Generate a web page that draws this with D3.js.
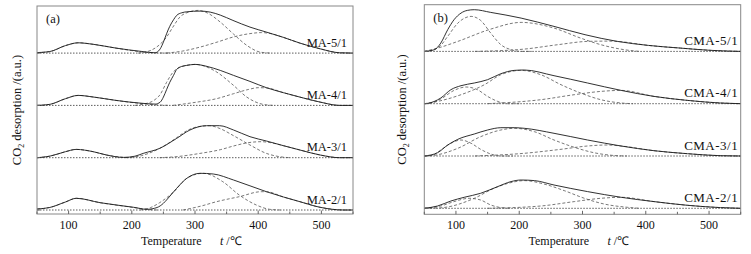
<!DOCTYPE html>
<html>
<head>
<meta charset="utf-8">
<script src="https://cdn.jsdelivr.net/npm/d3@7"></script>
<style>
  html, body { margin: 0; padding: 0; background: #fff; }
  svg { display: block; }
</style>
</head>
<body>
<script>
// CO2-TPD, deconvolución en tres picos. Cada curva: [t (°C), intensidad (a.u.)]
const tempTicks = [100, 200, 300, 400, 500];
const maLabels = ["MA-5/1", "MA-4/1", "MA-3/1", "MA-2/1"];
const cmaLabels = ["CMA-5/1", "CMA-4/1", "CMA-3/1", "CMA-2/1"];

// --- MA ---
const ma51Total = [[50,0.5],[70,1.5],[95,7.5],[115,10.3],[140,8.7],[175,5],[215,1.7],[237,0.3],[240,1],[245,4.3],[250,11],[255,19.3],[260,26.7],[266,33.3],[271,37.7],[279,40.3],[287,41.3],[308,42],[324,41],[340,38],[360,32.7],[387,26],[413,21],[440,15.7],[466,10],[498,4.3],[529,0.3],[550,0]];
const ma51Peak1 = [[50,0.5],[70,1.5],[95,7.5],[115,10.3],[140,8.7],[175,5],[200,2.5],[215,1.2],[235,0.3],[260,0]];
const ma51Peak2 = [[210,0],[230,2.7],[245,9],[255,16],[265,26],[276,36],[290,41],[305,42.7],[320,40],[340,31],[361,19],[382,7.7],[403,1],[420,0]];
const ma51Peak3 = [[255,0],[280,2],[308,6],[335,11],[360,16],[385,19.3],[405,20.5],[420,19.5],[440,15.7],[466,10],[498,4.3],[529,0.3],[550,0]];

const ma41Total = [[50,0],[70,1],[95,6.7],[115,10],[140,8.3],[175,5],[213,2.3],[237,1.3],[245,3.3],[250,8.3],[255,15.7],[260,23],[266,30],[271,36],[279,39],[287,40],[300,41],[319,39],[340,35],[361,30],[387,24],[413,17.7],[440,12.7],[466,8.3],[498,3.3],[529,0],[550,0]];
const ma41Peak1 = [[50,0],[70,1],[95,6.7],[115,10],[140,8.3],[175,5],[213,2],[240,0.5],[260,0]];
const ma41Peak2 = [[205,0],[220,1.5],[235,5],[245,11],[255,23],[265,33],[276,38],[300,41],[330,35],[361,20],[382,8.3],[408,1],[425,0]];
const ma41Peak3 = [[265,0],[300,3],[334,6.7],[361,11.7],[385,16],[400,17.7],[413,17.5],[440,12.7],[466,8.3],[498,3.3],[529,0],[550,0]];

const ma31Total = [[50,0],[70,1.5],[95,6],[112,8.3],[139,6],[160,2.7],[187,0.3],[205,1.5],[218,4.3],[244,9.3],[271,19.3],[292,27.7],[318,32],[339,32],[361,27.7],[387,21],[413,16.7],[440,12],[466,7.7],[498,2.7],[529,0],[550,0]];
const ma31Peak1 = [[50,0],[70,1.5],[95,6],[112,8.3],[139,6],[160,2.7],[187,0.3],[200,0]];
const ma31Peak2 = [[190,0],[215,2],[244,9.3],[271,20],[287,27],[305,31],[323,32],[340,29],[361,22],[387,12.7],[413,4.3],[434,1],[450,0]];
const ma31Peak3 = [[244,0],[270,1],[308,4.3],[340,8],[361,11.7],[384,15],[405,16],[420,15],[440,12],[466,7.7],[498,2.7],[529,0],[550,0]];

const ma21Total = [[50,1],[70,2.5],[95,8],[112,11.7],[150,7.3],[203,2.7],[224,0.7],[240,2.5],[250,6.7],[255,10],[271,21.7],[287,31.7],[308,36.7],[329,36],[361,30],[413,18.3],[440,13],[466,8.3],[498,2.7],[535,0],[550,0]];
const ma21Peak1 = [[50,1],[70,2.5],[95,8],[112,11.7],[150,7.3],[203,2.5],[225,0.5],[240,0]];
const ma21Peak2 = [[213,0],[230,2.5],[244,7.3],[266,18],[287,31.7],[313,36.7],[344,28.3],[370,15],[397,5],[418,0.7],[435,0]];
const ma21Peak3 = [[281,0],[310,4],[334,8.3],[370,13.3],[405,18.3],[413,18.3],[440,13],[466,8.3],[498,2.7],[535,0],[550,0]];

// --- CMA ---
const cma51Total = [[50,0],[66,1.7],[76,8.3],[87,21.7],[97,31.7],[108,38.3],[118,41],[129,41.7],[155,39],[203,33.3],[255,25],[304,16.7],[355,10],[404,6],[455,3.3],[504,1],[550,0]];
const cma51Peak1 = [[50,0],[58,0.5],[76,6],[87,15],[103,28.3],[124,35],[139,31],[155,18.3],[171,6.7],[187,1.7],[203,0],[220,0]];
const cma51Peak2 = [[50,0],[75,4],[103,10],[155,22.3],[203,29],[255,23.3],[297,13.3],[329,6.7],[366,1.7],[390,0]];
const cma51Peak3 = [[130,0],[208,2.3],[261,6.7],[308,10],[342,10.3],[355,10],[404,6],[455,3.3],[504,1],[550,0]];

const cma41Total = [[50,0],[55,0.3],[76,5.7],[92,14],[108,18],[129,20.7],[150,24],[171,30],[192,33.3],[208,33.7],[255,28],[308,20.7],[361,13.3],[413,7.3],[466,3.3],[518,0.7],[550,0]];
const cma41Peak1 = [[50,0],[60,0.5],[76,4.7],[97,13.3],[116,16.7],[134,14],[150,7.3],[166,2.3],[182,0],[200,0]];
const cma41Peak2 = [[50,0],[76,3],[108,9],[145,19],[171,29],[203,33.3],[234,29],[266,19],[297,10.7],[329,4],[361,0.7],[380,0]];
const cma41Peak3 = [[150,0],[234,4],[287,9],[329,12.3],[361,13.3],[413,7.3],[466,3.3],[518,0.7],[550,0]];

const cma31Total = [[50,0],[71,3.3],[87,11],[103,16.7],[129,22],[150,26],[171,28.3],[192,28.3],[208,27.7],[255,22.7],[308,16],[361,10],[413,5.3],[466,2.3],[518,0.3],[550,0]];
const cma31Peak1 = [[50,0],[62,0.5],[76,6],[92,12.7],[108,16],[124,12.7],[139,6.7],[155,2],[171,0],[190,0]];
const cma31Peak2 = [[50,0],[66,0.7],[103,7.7],[139,19.3],[171,26],[192,27.7],[224,24.3],[255,16],[287,8.7],[318,3.3],[350,0.5],[370,0]];
const cma31Peak3 = [[130,0],[208,2.7],[266,6.7],[308,10],[339,11],[361,10],[413,5.3],[466,2.3],[518,0.3],[550,0]];

const cma21Total = [[50,0],[71,2.3],[92,7.3],[113,11],[139,15],[166,21.7],[187,26.7],[203,28.3],[224,27.7],[255,23.3],[308,16.7],[361,11],[413,6.7],[466,3],[518,0.7],[550,0]];
const cma21Peak1 = [[50,0],[76,2.3],[97,6.7],[121,10],[139,8.3],[155,3.3],[171,0.7],[185,0]];
const cma21Peak2 = [[50,0],[76,0.5],[129,10],[160,20],[187,25.7],[208,27.7],[239,24.3],[271,17.7],[303,10],[334,4.3],[371,1],[390,0]];
const cma21Peak3 = [[150,0],[234,2.3],[287,6.7],[329,10],[361,11],[413,6.7],[466,3],[518,0.7],[550,0]];

const maSeries = [
  {total: ma51Total, peaks: [ma51Peak1, ma51Peak2, ma51Peak3]},
  {total: ma41Total, peaks: [ma41Peak1, ma41Peak2, ma41Peak3]},
  {total: ma31Total, peaks: [ma31Peak1, ma31Peak2, ma31Peak3]},
  {total: ma21Total, peaks: [ma21Peak1, ma21Peak2, ma21Peak3]},
];
const cmaSeries = [
  {total: cma51Total, peaks: [cma51Peak1, cma51Peak2, cma51Peak3]},
  {total: cma41Total, peaks: [cma41Peak1, cma41Peak2, cma41Peak3]},
  {total: cma31Total, peaks: [cma31Peak1, cma31Peak2, cma31Peak3]},
  {total: cma21Total, peaks: [cma21Peak1, cma21Peak2, cma21Peak3]},
];

const W = 751, H = 254;
const FONT = "'Liberation Serif', 'Times New Roman', serif";
const ROW = 52.3; // desplazamiento vertical entre curvas (a.u.)

const svg = d3.select("body").append("svg")
  .attr("width", W).attr("height", H)
  .attr("viewBox", [0, 0, W, H])
  .style("font-family", FONT);

function drawPanel({left, right, top, bottom, yMin, series, labels, tag, ylabX, labelPad, labelSize, labelSpacing}) {
  const x = d3.scaleLinear().domain([50, 550]).range([left, right]);
  const yMax = yMin + (bottom - top);
  const y = d3.scaleLinear().domain([yMin, yMax]).range([bottom, top]);
  const g = svg.append("g");
  const n = series.length;

  series.forEach((s, i) => {
    const off = (n - 1 - i) * ROW;
    const line = d3.line()
      .x(d => x(d[0])).y(d => y(d[1] + off))
      .curve(d3.curveMonotoneX);

    // línea base punteada
    g.append("line")
      .attr("x1", x(50)).attr("x2", x(550))
      .attr("y1", y(off)).attr("y2", y(off))
      .attr("stroke", "#333").attr("stroke-width", 0.8)
      .attr("stroke-dasharray", "1.5,1.5");

    // picos deconvolucionados
    for (const p of s.peaks) {
      g.append("path").datum(p).attr("d", line)
        .attr("fill", "none").attr("stroke", "#555")
        .attr("stroke-width", 0.8).attr("stroke-dasharray", "3,2");
    }
    // curva experimental
    g.append("path").datum(s.total).attr("d", line)
      .attr("fill", "none").attr("stroke", "#1a1a1a").attr("stroke-width", 0.9);

    g.append("text")
      .attr("x", right - labelPad).attr("y", y(off) - 6.5)
      .attr("text-anchor", "end").attr("font-size", labelSize)
      .attr("letter-spacing", labelSpacing).attr("fill", "#111")
      .text(labels[i]);

    // tick izquierdo en cada línea base
    g.append("line")
      .attr("x1", left).attr("x2", left + 3)
      .attr("y1", y(off)).attr("y2", y(off))
      .attr("stroke", "#666").attr("stroke-width", 1);
  });

  // marco
  g.append("rect")
    .attr("x", left).attr("y", top)
    .attr("width", right - left).attr("height", bottom - top)
    .attr("fill", "none").attr("stroke", "#888").attr("stroke-width", 1);

  // eje x con ticks hacia adentro
  const minor = d3.range(50, 551, 50);
  g.selectAll(null).data(minor).join("line")
    .attr("x1", d => x(d)).attr("x2", d => x(d))
    .attr("y1", bottom).attr("y2", d => bottom - (d % 100 === 0 ? 3.5 : 2.5))
    .attr("stroke", "#666").attr("stroke-width", 1);
  g.selectAll(null).data(tempTicks).join("text")
    .attr("x", d => x(d)).attr("y", bottom + 14.5)
    .attr("text-anchor", "middle").attr("font-size", 12).attr("fill", "#111")
    .text(d => d);

  const cx = (left + right) / 2;
  g.append("text").attr("x", cx - 54).attr("y", bottom + 31)
    .attr("font-size", 12).attr("fill", "#111").text("Temperature");
  const t2 = g.append("text").attr("x", cx + 25).attr("y", bottom + 31)
    .attr("font-size", 12).attr("fill", "#111");
  t2.append("tspan").attr("font-style", "italic").text("t");
  t2.append("tspan").text(" /℃");

  g.append("text").attr("x", left + 9).attr("y", top + 17)
    .attr("font-size", 12.5).attr("fill", "#111").text(tag);

  // etiqueta eje y
  const yl = g.append("text")
    .attr("transform", `translate(${ylabX},${(top + bottom) / 2}) rotate(-90)`)
    .attr("text-anchor", "middle").attr("font-size", 12.5).attr("fill", "#111");
  yl.append("tspan").text("CO");
  yl.append("tspan").attr("font-size", 8).attr("dy", 3).text("2");
  yl.append("tspan").attr("dy", -3).text(" desorption /(a.u.)");
}

drawPanel({left: 37, right: 353, top: 6, bottom: 214, yMin: -4,
  series: maSeries, labels: maLabels, tag: "(a)", ylabX: 21, labelPad: 6, labelSize: 12.5, labelSpacing: 0});
drawPanel({left: 424.3, right: 740.7, top: 4.7, bottom: 214.3, yMin: -6,
  series: cmaSeries, labels: cmaLabels, tag: "(b)", ylabX: 406, labelPad: 2.5, labelSize: 13, labelSpacing: 0.5});
</script>
</body>
</html>
